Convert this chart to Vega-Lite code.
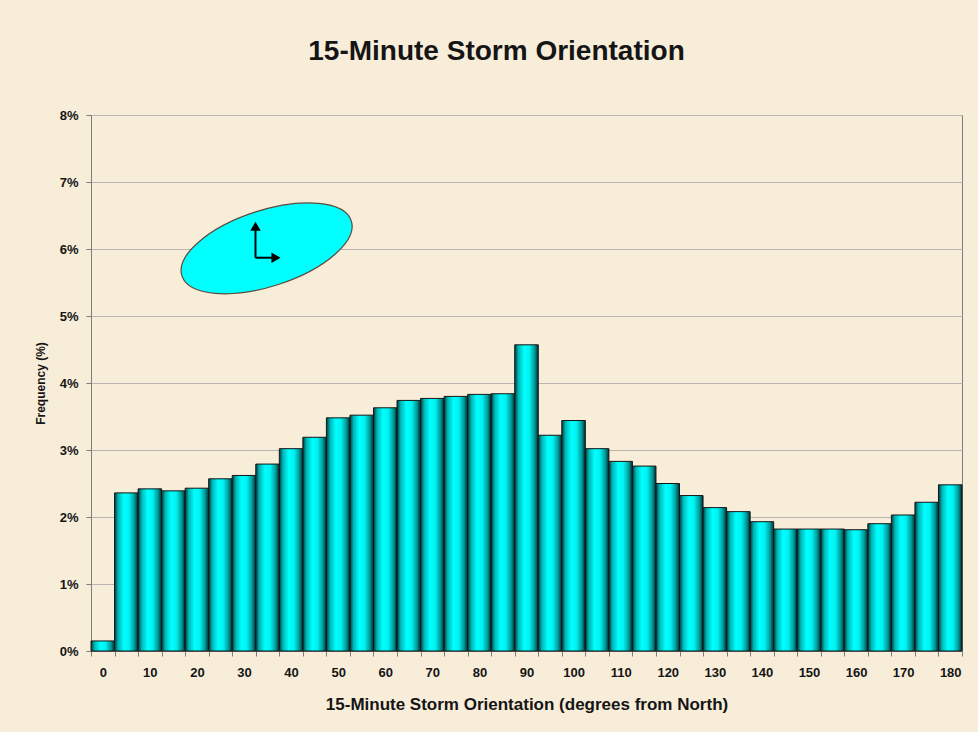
{
  "$schema": "https://vega.github.io/schema/vega-lite/v6.json",
  "width": 871,
  "height": 536,
  "autosize": "none",
  "padding": {"left": 91, "top": 115, "right": 16, "bottom": 81},
  "background": "#F8EDD9",
  "title": {
    "text": "15-Minute Storm Orientation",
    "font": "Liberation Sans",
    "fontSize": 28,
    "fontWeight": "bold",
    "color": "#151515",
    "anchor": "middle",
    "baseline": "alphabetic",
    "dx": -30,
    "offset": 21
  },
  "config": {
    "view": {"stroke": "#7d7d7d", "strokeWidth": 1},
    "axis": {
      "labelFont": "Liberation Sans",
      "labelFontWeight": "bold",
      "labelFontSize": 13,
      "labelColor": "#151515",
      "titleFont": "Liberation Sans",
      "titleFontWeight": "bold",
      "titleColor": "#151515",
      "domainColor": "#7d7d7d",
      "tickColor": "#7d7d7d",
      "tickSize": 5,
      "gridColor": "#b9b4b0",
      "gridWidth": 1
    }
  },
  "datasets": {
    "orientation": [
      {"deg": 0, "pct": 0.15},
      {"deg": 5, "pct": 2.36},
      {"deg": 10, "pct": 2.42},
      {"deg": 15, "pct": 2.39},
      {"deg": 20, "pct": 2.43},
      {"deg": 25, "pct": 2.57},
      {"deg": 30, "pct": 2.62},
      {"deg": 35, "pct": 2.79},
      {"deg": 40, "pct": 3.02},
      {"deg": 45, "pct": 3.19},
      {"deg": 50, "pct": 3.48},
      {"deg": 55, "pct": 3.52},
      {"deg": 60, "pct": 3.63},
      {"deg": 65, "pct": 3.74},
      {"deg": 70, "pct": 3.77},
      {"deg": 75, "pct": 3.8},
      {"deg": 80, "pct": 3.83},
      {"deg": 85, "pct": 3.84},
      {"deg": 90, "pct": 4.57},
      {"deg": 95, "pct": 3.22},
      {"deg": 100, "pct": 3.44},
      {"deg": 105, "pct": 3.02},
      {"deg": 110, "pct": 2.83},
      {"deg": 115, "pct": 2.76},
      {"deg": 120, "pct": 2.5},
      {"deg": 125, "pct": 2.32},
      {"deg": 130, "pct": 2.14},
      {"deg": 135, "pct": 2.08},
      {"deg": 140, "pct": 1.93},
      {"deg": 145, "pct": 1.82},
      {"deg": 150, "pct": 1.82},
      {"deg": 155, "pct": 1.82},
      {"deg": 160, "pct": 1.81},
      {"deg": 165, "pct": 1.9},
      {"deg": 170, "pct": 2.03},
      {"deg": 175, "pct": 2.22},
      {"deg": 180, "pct": 2.48}
    ],
    "icon": [{"deg": 34.8, "pct": 6.01}],
    "shafts": [
      {"deg": 32.44, "deg2": 32.44, "pct": 5.87, "pct2": 6.3},
      {"deg": 32.44, "deg2": 36.0, "pct": 5.87, "pct2": 5.87}
    ],
    "heads": [
      {"deg": 32.44, "pct": 6.34, "dir": "triangle-up"},
      {"deg": 36.79, "pct": 5.87, "dir": "triangle-right"}
    ]
  },
  "resolve": {"scale": {"x": "independent"}},
  "layer": [
    {
      "data": {"name": "orientation"},
      "mark": {
        "type": "bar",
        "stroke": "#161616",
        "strokeWidth": 1,
        "fill": {
          "gradient": "linear",
          "x1": 0, "y1": 0, "x2": 1, "y2": 0,
          "stops": [
            {"offset": 0, "color": "#003a3a"},
            {"offset": 0.15, "color": "#00b4b4"},
            {"offset": 0.4, "color": "#00ffff"},
            {"offset": 0.62, "color": "#00f2f2"},
            {"offset": 0.85, "color": "#009898"},
            {"offset": 1, "color": "#002c2c"}
          ]
        }
      },
      "encoding": {
        "x": {
          "field": "deg",
          "type": "ordinal",
          "scale": {"paddingInner": 0, "paddingOuter": 0},
          "axis": {
            "title": "15-Minute Storm Orientation (degrees from North)",
            "titleFontSize": 17,
            "titlePadding": 17,
            "labelAngle": 0,
            "labelPadding": 10,
            "tickBand": "extent",
            "labelExpr": "datum.value % 10 === 0 ? datum.label : ''"
          }
        },
        "y": {
          "field": "pct",
          "type": "quantitative",
          "scale": {"domain": [0, 8], "nice": false},
          "axis": {
            "title": "Frequency (%)",
            "titleFontSize": 12,
            "titlePadding": 12,
            "values": [0, 1, 2, 3, 4, 5, 6, 7, 8],
            "labelExpr": "datum.value + '%'",
            "labelPadding": 8,
            "grid": true
          }
        }
      }
    },
    {
      "layer": [
        {
          "data": {"name": "icon"},
          "mark": {
            "type": "point",
            "shape": "M1,0 C1,0.236 0.552,0.427 0,0.427 C-0.552,0.427 -1,0.236 -1,0 C-1,-0.236 -0.552,-0.427 0,-0.427 C0.552,-0.427 1,-0.236 1,0 Z",
            "size": 31684,
            "angle": -18,
            "filled": true,
            "fill": "#00FFFF",
            "stroke": "#5a4a3e",
            "strokeWidth": 1.2,
            "opacity": 1
          },
          "encoding": {
            "x": {"field": "deg", "type": "quantitative", "scale": {"domain": [-2.5, 182.5], "nice": false, "zero": false}, "axis": null},
            "y": {"field": "pct", "type": "quantitative"}
          }
        },
        {
          "data": {"name": "shafts"},
          "mark": {"type": "rule", "color": "#000000", "strokeWidth": 2},
          "encoding": {
            "x": {"field": "deg", "type": "quantitative", "scale": {"domain": [-2.5, 182.5], "nice": false, "zero": false}, "axis": null},
            "x2": {"field": "deg2"},
            "y": {"field": "pct", "type": "quantitative"},
            "y2": {"field": "pct2"}
          }
        },
        {
          "data": {"name": "heads"},
          "mark": {"type": "point", "filled": true, "fill": "#000000", "size": 110, "opacity": 1},
          "encoding": {
            "x": {"field": "deg", "type": "quantitative", "scale": {"domain": [-2.5, 182.5], "nice": false, "zero": false}, "axis": null},
            "y": {"field": "pct", "type": "quantitative"},
            "shape": {"field": "dir", "type": "nominal", "scale": {"domain": ["triangle-up", "triangle-right"], "range": ["triangle-up", "triangle-right"]}, "legend": null}
          }
        }
      ]
    }
  ]
}
